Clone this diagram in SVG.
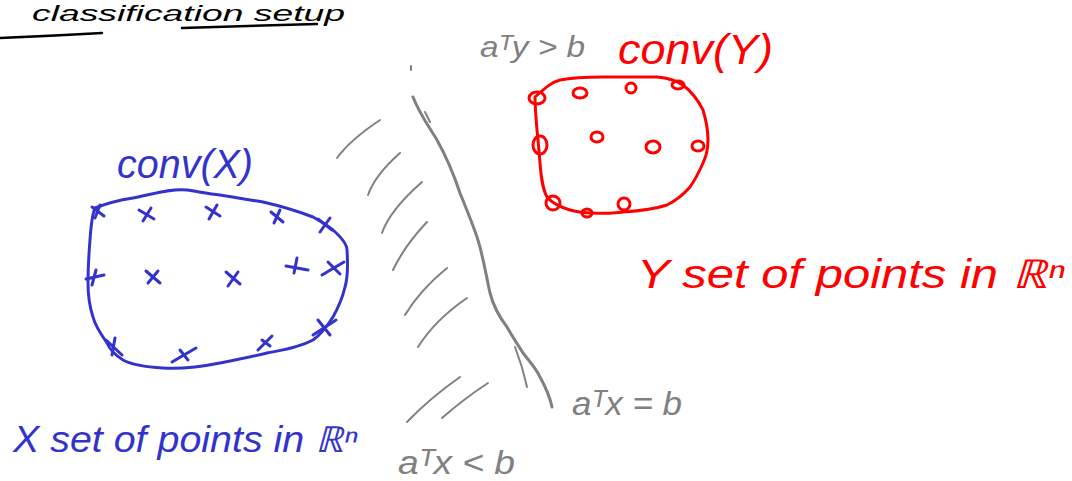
<svg xmlns="http://www.w3.org/2000/svg" width="1072" height="481" viewBox="0 0 1072 481">
<style>
.blue{fill:none;stroke:#3333cc;stroke-width:3;stroke-linecap:round;stroke-linejoin:round}
.red{fill:none;stroke:#ff0000;stroke-width:3;stroke-linecap:round;stroke-linejoin:round}
.gray{fill:none;stroke:#808080;stroke-width:3;stroke-linecap:round;stroke-linejoin:round}
.hatch{fill:none;stroke:#808080;stroke-width:2;stroke-linecap:round}
.ink{fill:none;stroke:#000;stroke-width:2.5;stroke-linecap:round}
.t{font-family:"Liberation Sans",Arial,sans-serif;font-style:italic}
.tb{fill:#3333cc}.tr{fill:#ff0000}.tg{fill:#808080}.tk{fill:#000}
</style>
<rect width="1072" height="481" fill="#fff"/>
<g id="title">
<text class="t tk" x="32" y="21" font-size="22" textLength="313" lengthAdjust="spacingAndGlyphs">classification setup</text>
<path class="ink" d="M0 38 Q50 36 102 33"/>
<path class="ink" d="M182 28 Q250 26 317 24"/>
</g>
<g id="setX">
<path class="blue" d="M95 208 C110 202 120 200 133 198 C150 195 170 188 187 190 C200 192 210 194 220 195 C240 198 250 200 263 202 C285 207 300 212 313 217 C322 222 328 226 333 230 C342 238 347 245 347 250 C348 265 348 277 345 287 C342 300 338 308 333 317 C326 328 320 335 313 340 C298 348 282 350 267 353 C250 357 235 360 220 363 C200 367 180 369 163 368 C145 367 132 365 123 360 C115 355 110 350 107 343 C100 333 95 325 93 317 C89 305 88 295 88 283 C88 265 89 252 90 240 C91 225 92 215 95 208 Z"/>
<g class="blue" stroke-width="2.2">
<path d="M92 207 L104 216 M100 205 L95 218"/>
<path d="M139 210 L154 219 M151 208 L143 221"/>
<path d="M206 207 L220 216 M217 205 L209 219"/>
<path d="M271 212 L283 222 M280 210 L274 223"/>
<path d="M318 219 L332 230 M330 218 L320 232"/>
<path d="M86 279 L104 275 M96 270 L92 285"/>
<path d="M146 271 L160 283 M158 271 L148 283"/>
<path d="M226 272 L240 284 M238 272 L228 286"/>
<path d="M286 266 L308 270 M297 258 L294 273"/>
<path d="M322 275 L344 262 M328 262 L340 274"/>
<path d="M313 335 L336 320 M318 320 L330 335"/>
<path d="M106 340 L122 355 M115 338 L112 355"/>
<path d="M172 362 L196 348 M180 350 L188 360"/>
<path d="M258 350 L272 336 M262 340 L270 346"/>
</g>
<text class="t tb" x="117" y="178" font-size="40" textLength="136" lengthAdjust="spacingAndGlyphs">conv(X)</text>
<text class="t tb" x="13" y="452" font-size="36" textLength="345" lengthAdjust="spacingAndGlyphs">X set of points in ℝⁿ</text>
</g>
<g id="setY">
<path class="red" d="M535 97 C545 88 552 82 560 80 C575 77 590 77 603 77 C620 77 640 77 657 77 C668 78 677 81 683 85 C692 92 698 100 703 110 C706 120 708 130 708 140 C708 150 706 157 703 163 C699 172 695 180 690 187 C683 195 675 201 667 205 C652 210 638 211 623 212 C612 213 602 214 593 213 C585 213 577 212 570 210 C560 207 552 203 547 197 C542 188 541 175 540 163 C539 150 538 140 537 130 C536 118 535 107 535 97 Z"/>
<g class="red" stroke-width="2.2">
<ellipse cx="537" cy="98" rx="8" ry="6"/>
<ellipse cx="580" cy="93" rx="7" ry="5"/>
<ellipse cx="631" cy="88" rx="5" ry="5"/>
<ellipse cx="678" cy="85" rx="6" ry="4"/>
<ellipse cx="597" cy="137" rx="6" ry="5"/>
<ellipse cx="653" cy="147" rx="7" ry="6"/>
<ellipse cx="540" cy="145" rx="7" ry="9"/>
<ellipse cx="698" cy="146" rx="6" ry="5"/>
<ellipse cx="553" cy="203" rx="7" ry="7"/>
<ellipse cx="587" cy="213" rx="5" ry="4"/>
<ellipse cx="624" cy="204" rx="6" ry="6"/>
</g>
<text class="t tr" x="618" y="64" font-size="42" textLength="155" lengthAdjust="spacingAndGlyphs">conv(Y)</text>
<text class="t tr" x="637" y="288" font-size="40" textLength="428" lengthAdjust="spacingAndGlyphs">Y set of points in ℝⁿ</text>
</g>
<g id="hyperplane">
<path class="gray" d="M413 97 C420 115 430 128 437 140 C447 158 454 175 460 193 C466 208 472 222 477 237 C483 255 486 275 490 293 C494 308 500 318 507 327 C512 336 518 345 523 353 C530 362 536 368 540 377 C546 388 550 397 552 407"/>
<path class="hatch" d="M411 66 L411 70"/>
<path class="hatch" d="M425 112 L430 122"/>
<path class="hatch" d="M515 347 C520 360 524 373 527 387"/>
<g class="hatch">
<path d="M337 158 Q350 140 380 120"/>
<path d="M368 195 Q375 175 400 153"/>
<path d="M382 233 Q390 210 422 182"/>
<path d="M393 270 Q405 245 427 222"/>
<path d="M405 315 Q420 290 447 268"/>
<path d="M418 347 Q435 320 467 298"/>
<path d="M407 422 Q430 398 460 377"/>
<path d="M442 418 Q465 398 488 383"/>
</g>
<text class="t tg" x="480" y="57" font-size="30" textLength="105" lengthAdjust="spacingAndGlyphs">aᵀy &gt; b</text>
<text class="t tg" x="572" y="415" font-size="34" textLength="110" lengthAdjust="spacingAndGlyphs">aᵀx = b</text>
<text class="t tg" x="398" y="474" font-size="34" textLength="117" lengthAdjust="spacingAndGlyphs">aᵀx &lt; b</text>
</g>
</svg>
